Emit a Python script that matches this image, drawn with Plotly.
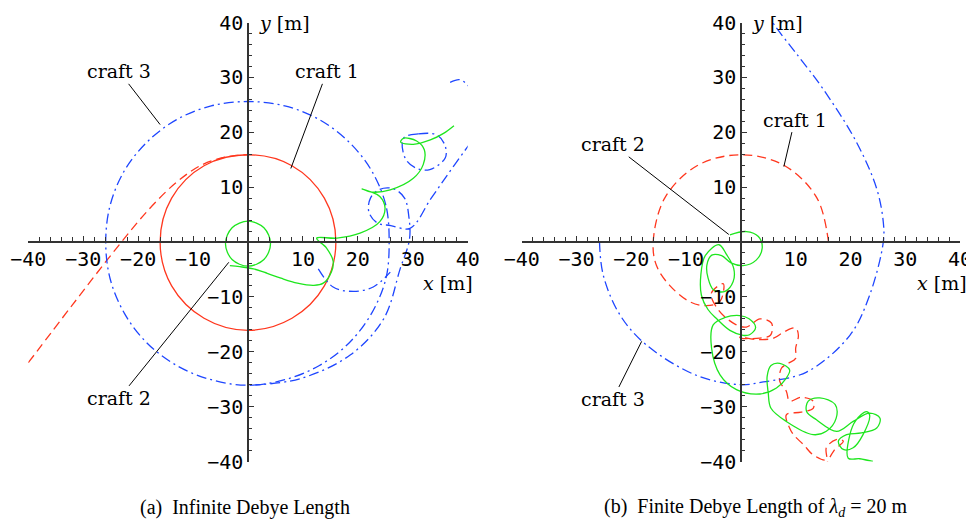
import plotly.graph_objects as go

RED = "rgb(255,55,30)"
BLUE = "rgb(30,70,255)"
GREEN = "rgb(30,230,30)"
AXC = "#333333"

# ---------------- Panel (a): infinite Debye length ----------------
a_c1_orbit_x = [16, 13.9, 8, 0, -8, -13.9, -16, -13.9, -8, 0, 8, 13.9, 16]
a_c1_orbit_y = [0, 8, 13.9, 15.9, 13.9, 8, 0, -8, -13.9, -16.1, -13.9, -8, 0]
a_c1_path_x = [-40, -32, -24, -18, -13, -8.5, -4, 0]
a_c1_path_y = [-22, -11.5, -1.2, 6, 10.9, 14, 15.5, 15.9]

a_c2_loop_x = [4.1, 2.9, 0, -2.9, -4.1, -2.9, 0, 2.9, 4.1]
a_c2_loop_y = [-0.3, 2.6, 3.8, 2.6, -0.3, -3.2, -4.4, -3.2, -0.3]
a_c2_path_x = [-3.3, -1.5, 1, 3.5, 6, 9, 12, 13.7, 15.2, 15.5, 14.3, 12.5, 16.2, 20.4, 24.0,
               24.95, 24.0, 22.2, 20.7, 22.5, 25.9, 30.1, 31.9, 32.1, 30.7, 28.3, 27.8, 30.1,
               33.2, 35.6, 37.5]
a_c2_path_y = [-4.3, -4.5, -4.9, -5.7, -6.6, -7.5, -7.9, -7.5, -5.4, -3.5, -1.1, 0.7, 0.7, 1.6, 3.7,
               6.2, 8.3, 9.2, 9.7, 9.1, 9.5, 11.6, 14.1, 16.8, 18.4, 18.9, 18.2, 17.8,
               18.6, 19.8, 21.2]

a_c3_orbit_x = [25.7, 25.1, 22.5, 18.4, 13, 6.7, 0, -6.7, -13, -18.4, -22.5, -25.1, -25.9,
                -25.1, -22.5, -18.4, -13, -6.7, 0, 6.7, 13, 18.4, 22.5, 25.1, 25.7]
a_c3_orbit_y = [0, 6.7, 13, 18.2, 22.3, 24.8, 25.6, 24.8, 22.3, 18.2, 13, 6.7, 0,
                -6.7, -13, -18.4, -22.5, -25.1, -26.1, -25.1, -22.5, -18.4, -13, -6.7, 0]
a_c3_path_x = [0.4, 9.5, 18.6, 24.7, 27.7, 29.4, 29.3, 28.5, 26.5, 24, 22.3, 22, 23.5, 26,
               29.5, 33.3, 36.5, 39.8, 42]
a_c3_path_y = [-26.1, -24.9, -20.6, -14, -4.9, 0.5, 4.5, 8, 9.7, 9.6, 8, 5.5, 3.5, 3,
               2.5, 7.9, 12.5, 17.1, 20]
a_c3_loopc_x = [28.3, 31, 34.4, 35.9, 35.9, 33.1, 30.5, 28.6, 28.3]
a_c3_loopc_y = [18.9, 19.7, 19.5, 17.5, 15.3, 13.2, 13.5, 15.3, 18.9]
a_c3_loopd_x = [36.8, 38.5, 39.8, 41]
a_c3_loopd_y = [29.1, 29.6, 28.8, 27]
a_c3_loopa_x = [12.8, 15.5, 19.2, 22.8, 25.9]
a_c3_loopa_y = [-4.9, -8.2, -9.0, -8.2, -5.5]

# ---------------- Panel (b): finite Debye length ----------------
b_c1_x = [16, 13.9, 8, 0, -8, -13.9, -16, -15.4, -13, -9.3, -6.3, -3.8, -3.2, -5.4, -4, -1, 1.0,
          3.5, 5.6, 5.4, 3.5, 0, -0.2, 3, 6, 8, 10, 10.5, 10, 10, 8.5, 7.4, 7.1, 8.3, 8.9, 11,
          13.2, 13.2, 11, 8.3, 8.9, 9.6, 11.5, 13.2, 15.6, 15.6, 17.4, 18.7, 17, 15.6]
b_c1_y = [0, 8, 13.9, 15.9, 13.9, 8, 0, -4.3, -7.9, -10.9, -11.6, -10.8, -7.6, -9.4, -12.5, -15,
          -15.5, -14, -14.8, -17, -17.5, -17.5, -17.3, -17.8, -17.5, -16.3, -15.7, -17, -19.4,
          -21.2, -22.2, -23, -25.4, -27.2, -29.0, -28.3, -29.0, -30.3, -31, -31.5, -33.9, -35.1,
          -37, -38.8, -39.7, -37.5, -36, -36.3, -38, -40.5]

b_c2_x = [-2.0, 1.0, 3.2, 3.9, 2.8, 0.4, -1.8, -3.5, -5.3, -6.2, -6.0, -5.0, -2.9, -1.4, -1.3,
          -2.6, -4.0, -6.5, -7.3, -7.2, -6.0, -4.4, -2, 0.4, 1.6, 2.7, 1.5, -0.2, -3, -5.05,
          -5.35, -3.8, -0.8, 3.5, 6.5, 8.3, 8.9, 7.1, 5.5, 4.8, 5.0, 5.5, 8.3, 13.2, 15.6, 17.4,
          17.2, 14.4, 12.3, 12.0, 13.8, 17.5, 20.5, 23.5, 25.4, 24.8, 22, 19.3, 17.8, 18.7,
          20.5, 22.3, 23.5, 22.9, 21, 19.9, 19.6, 21.7, 24.1]
b_c2_y = [1.3, 1.9, 1.0, -1.1, -3.3, -4.3, -3.8, -2.5, -2.4, -4.2, -6.5, -8.7, -9.0, -7.2, -4.8,
          -2.3, -0.5, -2.5, -6, -9.7, -12.3, -14, -16.1, -17.0, -16.9, -15.6, -14, -13.4, -13.8,
          -15.1, -19.3, -24.2, -26.9, -27.7, -26.6, -24.8, -23.3, -22.1, -22.5, -24.5, -27.5,
          -30.3, -32.7, -35.1, -34.5, -32.1, -29.6, -28.4, -29.0, -30.9, -32.4, -34.5, -32.7,
          -31.2, -32.1, -33.9, -34.8, -35.1, -36.3, -37.8, -37.5, -35.1, -31.5, -30.9, -32.5,
          -35.1, -39.4, -39.5, -40]

b_c3_x = [-25.8, -25.1, -22, -17.2, -8.1, -0.2, 4.1, 12, 19.9, 23.5, 26, 26, 24.8, 21.1, 15,
          10, 6.5, 5.5]
b_c3_y = [0, -6.1, -13.4, -18.8, -24.3, -26, -25.5, -23.7, -17, -9.7, 0, 3.6, 9.7, 18.2, 27.9,
          34.5, 39, 40.5]

tick_vals = [-40, -30, -20, -10, 10, 20, 30, 40]
tick_text = ["\u221240", "\u221230", "\u221220", "\u221210", "10", "20", "30", "40"]

DASH_RED = "9px,5px"
DASH_BLUE = "10px,4px,2px,4px"

fig = go.Figure()


def add(x, y, color, dash, xa, ya):
    fig.add_trace(go.Scatter(
        x=x, y=y, mode="lines", xaxis=xa, yaxis=ya, hoverinfo="skip", showlegend=False,
        line=dict(color=color, width=1.3, dash=dash, shape="spline", smoothing=1.0)))


# panel a
add(a_c1_orbit_x, a_c1_orbit_y, RED, "solid", "x", "y")
add(a_c1_path_x, a_c1_path_y, RED, DASH_RED, "x", "y")
add(a_c3_orbit_x, a_c3_orbit_y, BLUE, DASH_BLUE, "x", "y")
add(a_c3_path_x, a_c3_path_y, BLUE, DASH_BLUE, "x", "y")
add(a_c3_loopc_x, a_c3_loopc_y, BLUE, DASH_BLUE, "x", "y")
add(a_c3_loopd_x, a_c3_loopd_y, BLUE, DASH_BLUE, "x", "y")
add(a_c3_loopa_x, a_c3_loopa_y, BLUE, DASH_BLUE, "x", "y")
add(a_c2_loop_x, a_c2_loop_y, GREEN, "solid", "x", "y")
add(a_c2_path_x, a_c2_path_y, GREEN, "solid", "x", "y")
# panel b
add(b_c1_x, b_c1_y, RED, DASH_RED, "x2", "y2")
add(b_c3_x, b_c3_y, BLUE, DASH_BLUE, "x2", "y2")
add(b_c2_x, b_c2_y, GREEN, "solid", "x2", "y2")

W, H = 974, 519
OFF = 8  # page body margin offset


def px_x(p):
    return (p - OFF) / W


def px_y(p):
    return 1 - (p - OFF) / H


Y_DOM = [px_y(461.5), px_y(22.5)]
Y0_PAPER = px_y(241.5)


def axis(domain, position):
    return dict(
        domain=domain, anchor="free", position=position, range=[-40, 40],
        automargin=False,
        showgrid=False, zeroline=False, showline=True, linecolor=AXC, linewidth=1.5,
        ticks="inside", ticklen=5, tickwidth=1, tickcolor=AXC,
        tickmode="array", tickvals=tick_vals, ticktext=tick_text,
        tickfont=dict(family="DejaVu Sans Mono", size=20, color="black"),
        minor=dict(tickmode="linear", tick0=0, dtick=2, ticks="inside", ticklen=3.5,
                   tickcolor=AXC, tickwidth=1),
        fixedrange=True)


fig.update_layout(
    width=W, height=H, margin=dict(l=0, r=0, t=0, b=0, autoexpand=False),
    paper_bgcolor="white", plot_bgcolor="white", showlegend=False,
    xaxis=axis([px_x(28.3), px_x(467.7)], Y0_PAPER),
    yaxis=axis(Y_DOM, px_x(248)),
    xaxis2=axis([px_x(521.7), px_x(960)], Y0_PAPER),
    yaxis2=axis(Y_DOM, px_x(741)),
)

SERIF = dict(family="DejaVu Serif", size=19, color="black")
ann = []


def label(text, x, y, px, py, xr, yr):
    ann.append(dict(text=text, x=px, y=py, ax=x, ay=y, xref=xr, yref=yr, axref=xr, ayref=yr,
                    showarrow=True, arrowhead=0, arrowwidth=1, arrowcolor="black",
                    font=SERIF))


label("craft 3", -23.5, 31.1, -16.0, 21.4, "x", "y")
label("craft 1", 14.4, 31.1, 7.8, 13.4, "x", "y")
label("craft 2", -23.5, -28.5, -3.5, -3.7, "x", "y")
label("craft 1", 9.85, 22.3, 7.85, 13.75, "x2", "y2")
label("craft 2", -23.4, 17.8, -2.2, 1.37, "x2", "y2")
label("craft 3", -23.4, -28.7, -18.1, -18.1, "x2", "y2")

for xr, yr, xx in (("x", "y", 36.4), ("x2", "y2", 36.8)):
    ann.append(dict(text="<i>x</i> [m]", x=xx, y=-7.4, xref=xr, yref=yr, showarrow=False,
                    font=SERIF))
    ann.append(dict(text="<i>y</i> [m]", x=6.7, y=40.0, xref=xr, yref=yr, showarrow=False,
                    font=SERIF))

CAP = dict(family="Liberation Serif", size=20, color="black")
ann.append(dict(text="(a)  Infinite Debye Length", x=px_x(245), y=px_y(507), xref="paper",
                yref="paper", xanchor="center", yanchor="middle", showarrow=False, font=CAP))
ann.append(dict(text="(b)  Finite Debye Length of <i>\u03bb</i><sub><i>d</i></sub> = 20 m",
                x=px_x(755), y=px_y(507), xref="paper", yref="paper", xanchor="center",
                yanchor="middle", showarrow=False, font=CAP))
fig.update_layout(annotations=ann)

fig.write_html("out.html")
